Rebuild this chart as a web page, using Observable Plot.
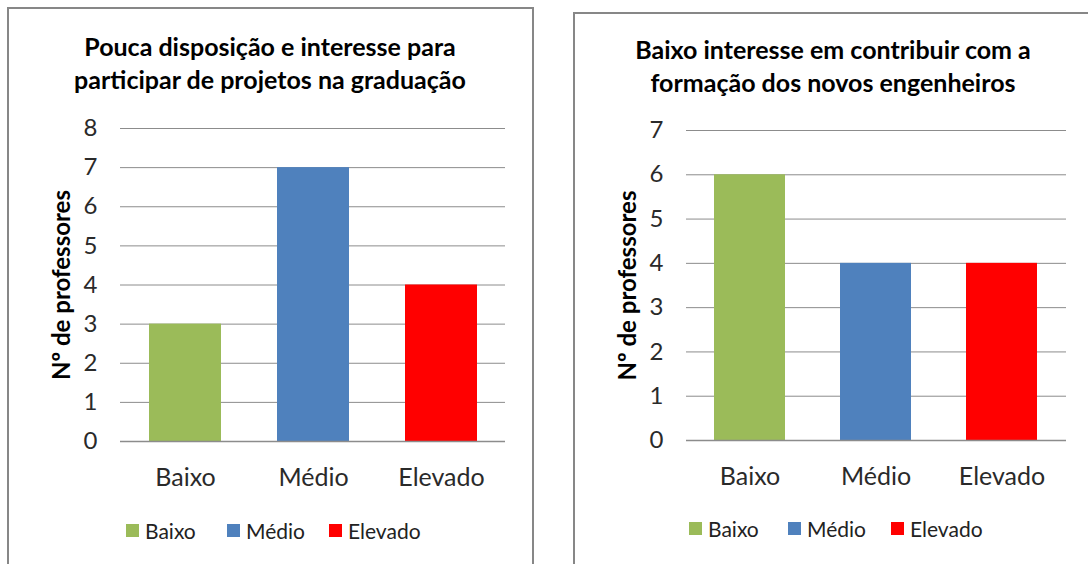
<!DOCTYPE html>
<html>
<head>
<meta charset="utf-8">
<script src="https://cdn.jsdelivr.net/npm/d3@7"></script>
<script src="https://cdn.jsdelivr.net/npm/@observablehq/plot@0.6"></script>
<style>
  html, body { margin: 0; padding: 0; background: #fff; }
  body { width: 1088px; height: 564px; position: relative; overflow: hidden; font-family: Lato, "Open Sans", sans-serif; }
  .panel { position: absolute; border: 2px solid #878787; box-sizing: border-box; background: #fff; }
  .title { position: absolute; text-align: center; font-weight: bold; font-size: 25px; line-height: 33px; color: #000; white-space: nowrap; }
  .chart { position: absolute; }
  .chart svg { overflow: visible; }
  .legend { position: absolute; height: 24px; font-size: 21px; color: #222; white-space: nowrap; }
  .legend .item { position: absolute; top: 0; display: flex; align-items: center; height: 24px; }
  .legend .sw { width: 13px; height: 13px; display: inline-block; margin-right: 6px; }
</style>
</head>
<body>
<div class="panel" style="left:7px; top:7px; width:527px; height:600px;"></div>
<div class="panel" style="left:573px; top:12px; width:530px; height:600px;"></div>

<div class="title" id="t1" style="left:0px; top:30px; width:540px;"></div>
<div class="title" id="t2" style="left:566px; top:33px; width:534px;"></div>

<div class="chart" id="c1" style="left:0px; top:100px;"></div>
<div class="chart" id="c2" style="left:560px; top:100px;"></div>

<div class="legend" id="l1" style="left:0px; top:518px;"></div>
<div class="legend" id="l2" style="left:0px; top:516px;"></div>

<script>
// ---- data ----
const categories = ["Baixo", "Médio", "Elevado"];
const colors = ["#9BBB59", "#4F81BD", "#FF0000"];

const title1 = ["Pouca disposição e interesse para", "participar  de projetos na graduação"];
const values1 = [3, 7, 4];
const ticks1 = [0, 1, 2, 3, 4, 5, 6, 7, 8];

const title2 = ["Baixo interesse em contribuir  com a", "formação dos novos engenheiros"];
const values2 = [6, 4, 4];
const ticks2 = [0, 1, 2, 3, 4, 5, 6, 7];

const yLabel = "Nº de professores";

// layout (legend entry left edges, in page pixels)
const legendX1 = [126, 227, 329];
const legendX2 = [689, 788, 891];

function makeChart({values, ticks, width, height, marginLeft, marginRight, marginTop, marginBottom, paddingInner}) {
  const data = categories.map((c, i) => ({cat: c, value: values[i]}));
  return Plot.plot({
    width, height, marginLeft, marginRight, marginTop, marginBottom,
    style: {fontFamily: "Lato, 'Open Sans', sans-serif", background: "transparent", color: "#2a2a2a", overflow: "visible"},
    x: {domain: categories, paddingInner, paddingOuter: paddingInner / 2, label: null},
    y: {domain: [ticks[0], ticks[ticks.length - 1]], label: null},
    color: {domain: categories, range: colors},
    marks: [
      Plot.ruleY(ticks, {stroke: "#8c8c8c", strokeWidth: 1}),
      Plot.barY(data, {x: "cat", y: "value", fill: "cat"}),
      Plot.ruleY([0], {stroke: "#8c8c8c", strokeWidth: 1.5}),
      Plot.axisX({tickSize: 0, tickPadding: 27, fontSize: 25, label: null}),
      Plot.axisY({ticks, tickFormat: d3.format("d"), tickSize: 0, tickPadding: 23, fontSize: 24, label: null}),
      Plot.text([yLabel], {frameAnchor: "left", text: d => d, rotate: -90, dx: -58, textAnchor: "middle", fontWeight: "bold", fontSize: 24, fill: "#000"})
    ]
  });
}

document.getElementById("c1").appendChild(makeChart({
  values: values1, ticks: ticks1, width: 540, height: 400,
  marginLeft: 120, marginRight: 35, marginTop: 28, marginBottom: 59, paddingInner: 0.44
}));
document.getElementById("c2").appendChild(makeChart({
  values: values2, ticks: ticks2, width: 528, height: 400,
  marginLeft: 126, marginRight: 22, marginTop: 30, marginBottom: 60, paddingInner: 0.435
}));

function fillTitle(id, lines) {
  const el = document.getElementById(id);
  lines.forEach(l => { const d = document.createElement("div"); d.textContent = l; el.appendChild(d); });
}
fillTitle("t1", title1);
fillTitle("t2", title2);

function fillLegend(id, xs) {
  const el = document.getElementById(id);
  categories.forEach((c, i) => {
    const it = document.createElement("span"); it.className = "item"; it.style.left = xs[i] + "px";
    const sw = document.createElement("span"); sw.className = "sw"; sw.style.background = colors[i];
    const tx = document.createElement("span"); tx.textContent = c;
    it.appendChild(sw); it.appendChild(tx); el.appendChild(it);
  });
}
fillLegend("l1", legendX1);
fillLegend("l2", legendX2);
</script>
</body>
</html>
